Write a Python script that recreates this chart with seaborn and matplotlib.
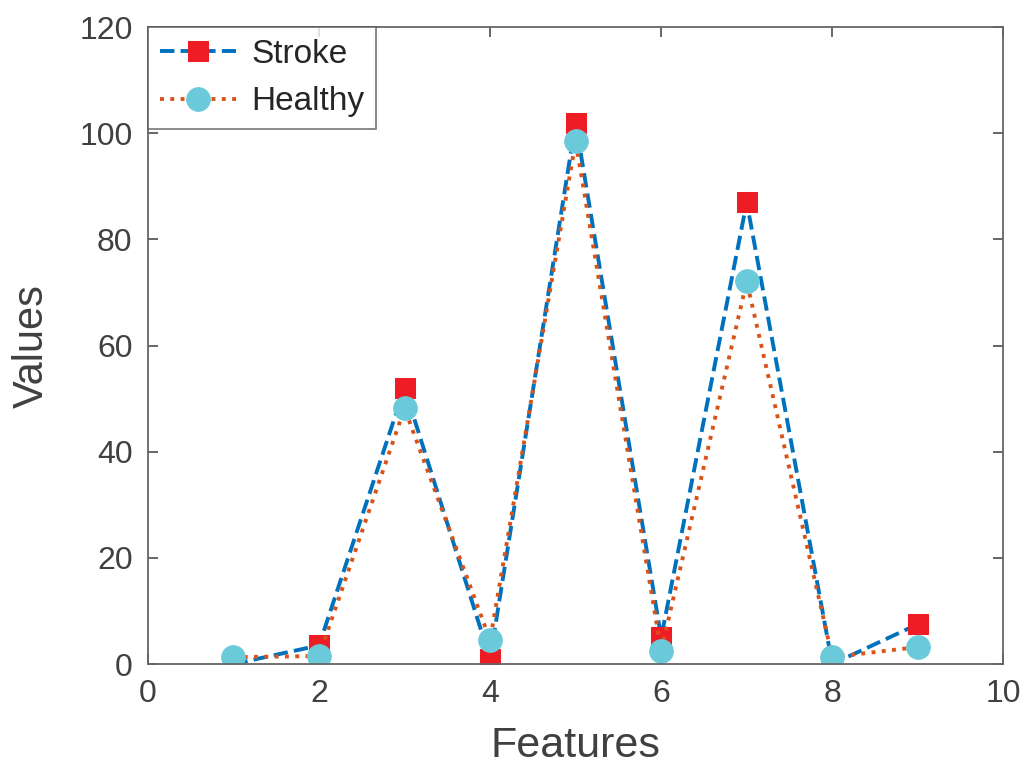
import numpy as np
import pandas as pd
import seaborn as sns
import matplotlib.pyplot as plt

# datos
features = [1, 2, 3, 4, 5, 6, 7, 8, 9]
stroke = [0, 3.5, 52, 1, 102, 5, 87, 0, 7.5]
healthy = [1.3, 1.5, 48.2, 4.5, 98.5, 2.5, 72.1, 1.3, 3.2]
xticks = [0, 2, 4, 6, 8, 10]
yticks = [0, 20, 40, 60, 80, 100, 120]

sns.set_style("white")
plt.rcParams['font.family'] = ['Liberation Sans', 'DejaVu Sans']

fig = plt.figure(figsize=(10.27, 7.76), dpi=100)
ax = fig.add_axes([0.144, 0.1443, 0.833, 0.8207])

sns.lineplot(x=features, y=stroke, ax=ax, color='#0072BD', linestyle='--',
             linewidth=2.8, marker='s', markersize=15, markerfacecolor='#EE1C25',
             markeredgecolor='#EE1C25', label='Stroke', dashes=(5.5, 3.2))
sns.lineplot(x=features, y=healthy, ax=ax, color='#D95319', linestyle=':',
             linewidth=2.8, marker='o', markersize=17, markerfacecolor='#6BCAD9',
             markeredgecolor='#6BCAD9', label='Healthy', dashes=(1.1, 2.0))

ax.set_xlim(0, 10)
ax.set_ylim(0, 120)
ax.set_xticks(xticks)
ax.set_yticks(yticks)
ax.tick_params(direction='in', length=7, width=1.2, colors='#4D4D4D',
               labelsize=23, labelcolor='#404040', top=True, right=True,
               bottom=True, left=True, pad=11)
for s in ax.spines.values():
    s.set_color('#666666')
    s.set_linewidth(1.3)

ax.set_xlabel("Features", fontsize=31, color='#404040', labelpad=12)
ax.set_ylabel("Values", fontsize=30, color='#404040', labelpad=20)

leg = ax.legend(loc='upper left', fontsize=24, frameon=True, fancybox=False,
                borderaxespad=0.0, handlelength=2.3, borderpad=0.35,
                labelspacing=0.5, handletextpad=0.45)
leg.get_frame().set_edgecolor('#555555')
leg.get_frame().set_linewidth(1.2)
for t in leg.get_texts():
    t.set_color('#262626')

plt.savefig("out.png", dpi=100)
